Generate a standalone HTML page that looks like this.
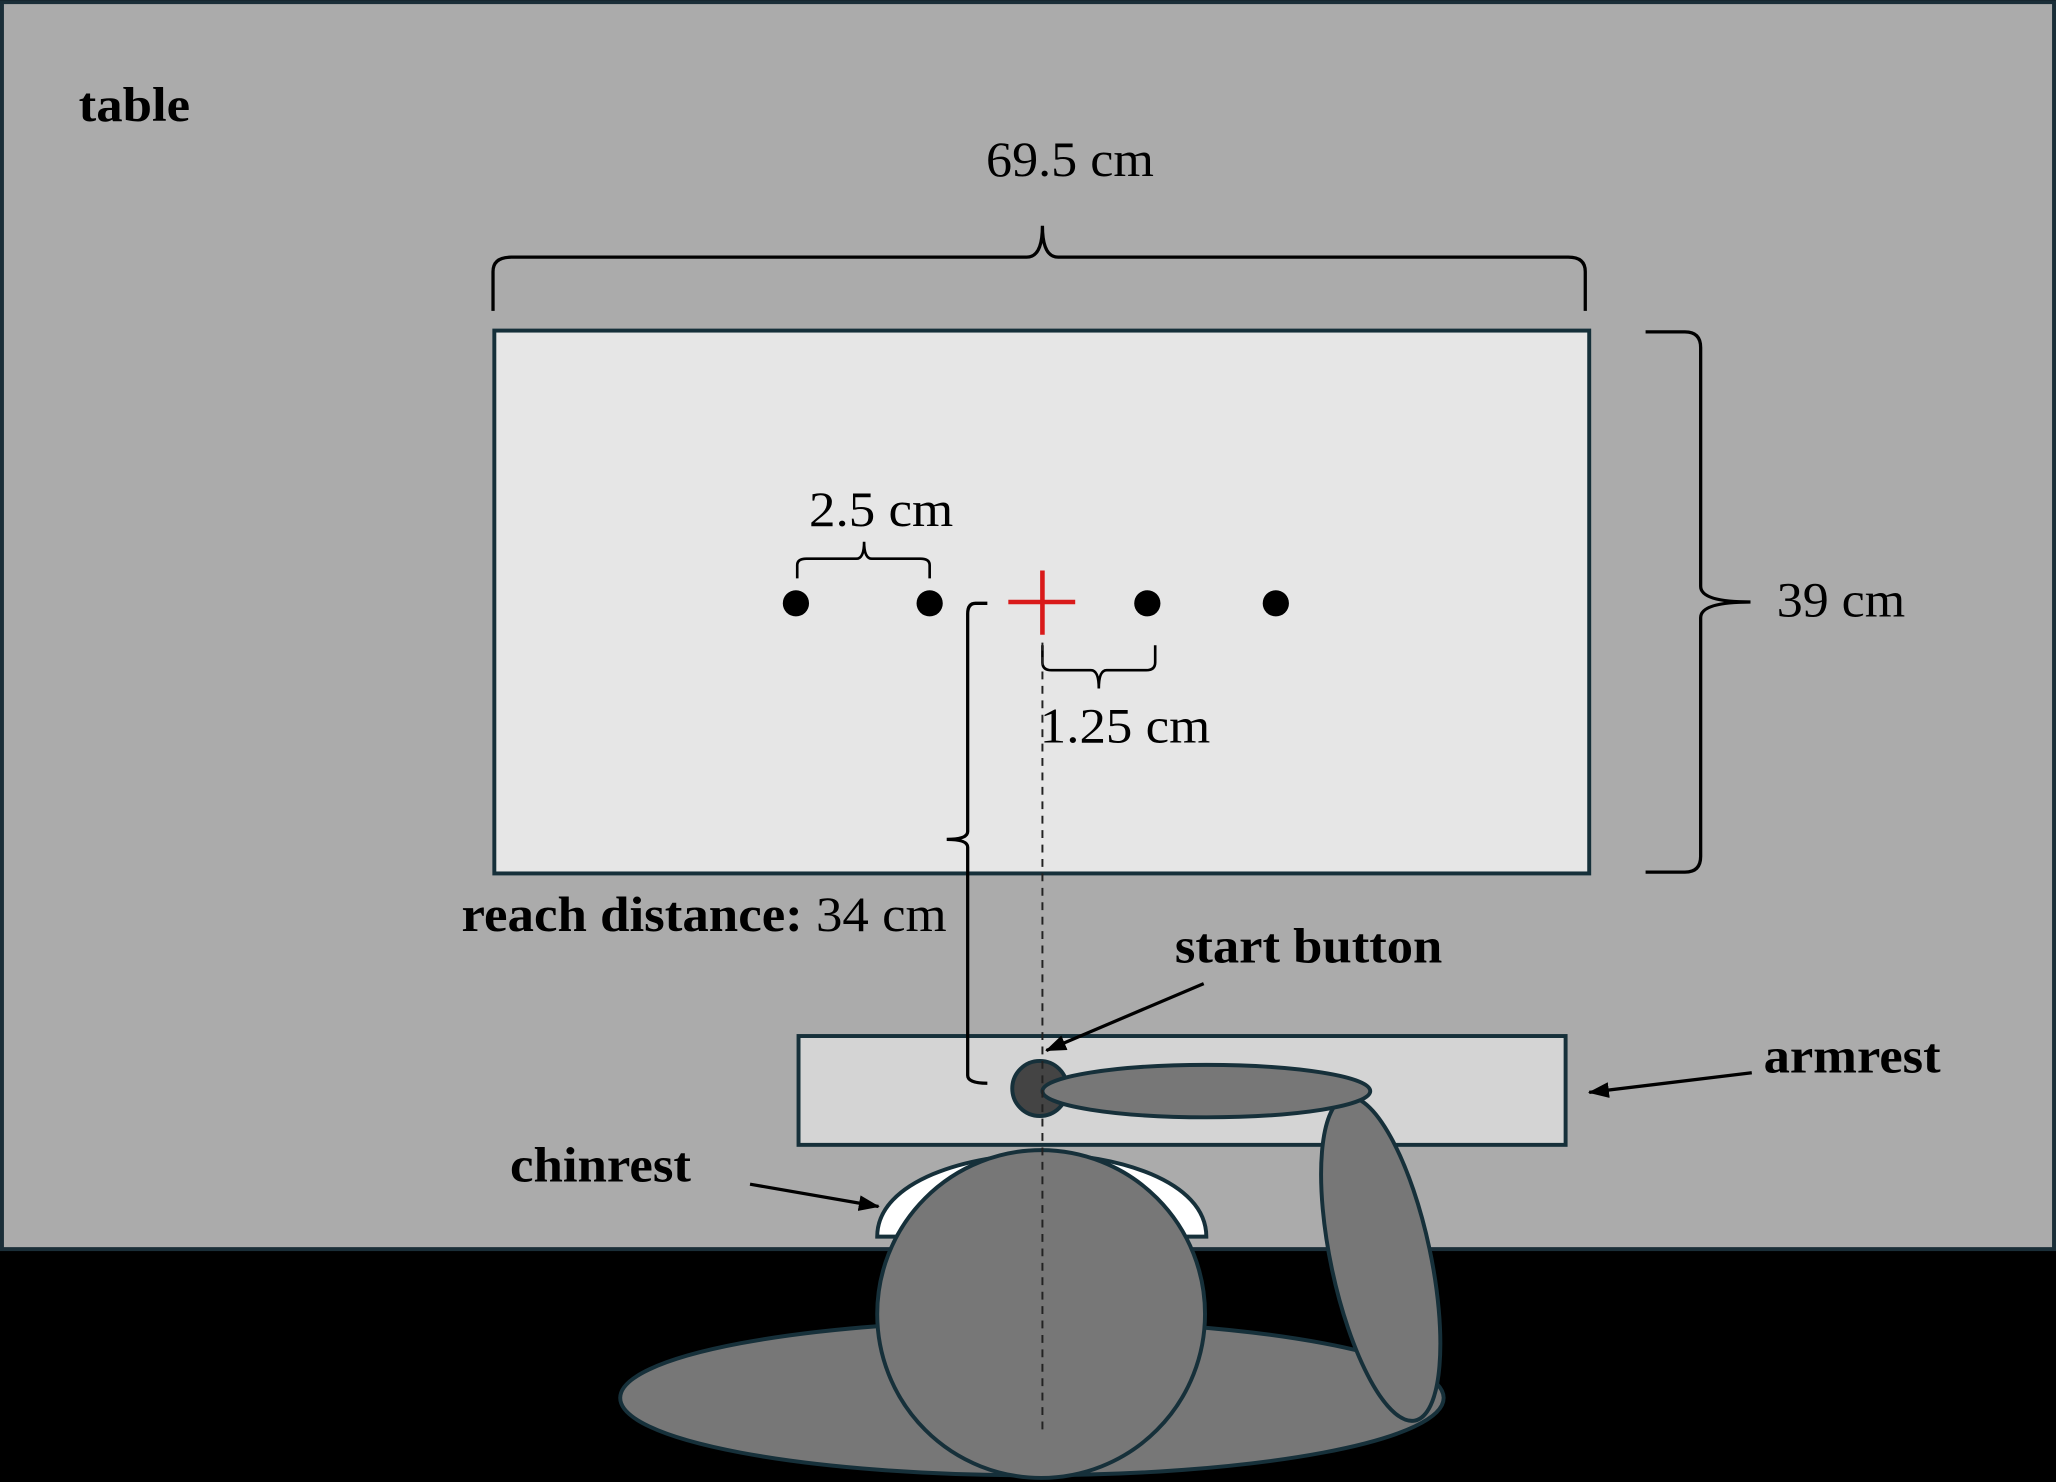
<!DOCTYPE html>
<html><head><meta charset="utf-8"><style>
html,body{margin:0;padding:0;background:#000}
svg{display:block}
text{font-family:"Liberation Serif",serif;fill:#000}
.b{font-weight:bold}
</style></head><body>
<svg width="2056" height="1482" viewBox="0 0 1568 1130" xmlns="http://www.w3.org/2000/svg">
<defs><marker id="ah" markerWidth="16" markerHeight="12" refX="15" refY="6" orient="auto" markerUnits="userSpaceOnUse"><path d="M0,0 L16,6 L0,12 Z" fill="#000"/></marker></defs>
<rect x="0" y="0" width="1568" height="1130" fill="#000"/>
<rect x="1.5" y="1.5" width="1565" height="951" fill="#ababab" stroke="#1a2e38" stroke-width="3"/>
<text x="60" y="92" class="b" font-size="37" textLength="85" lengthAdjust="spacingAndGlyphs">table</text>
<text x="752" y="134" font-size="38" textLength="128" lengthAdjust="spacingAndGlyphs">69.5 cm</text>
<path d="M376,237 L376,207 Q376,196 390,196 L783,196 Q795,196 795,172 Q795,196 807,196 L1196,196 Q1209,196 1209,207 L1209,237" fill="none" stroke="#000" stroke-width="2.5"/>
<rect x="377" y="252" width="835" height="414" fill="#e6e6e6" stroke="#16303a" stroke-width="3"/>
<path d="M1255,253 L1285,253 Q1297,253 1297,265 L1297,447 Q1297,459 1335,459 Q1297,459 1297,471 L1297,653 Q1297,665 1285,665 L1255,665" fill="none" stroke="#000" stroke-width="2.5"/>
<text x="1355" y="470" font-size="38" textLength="98" lengthAdjust="spacingAndGlyphs">39 cm</text>
<text x="617" y="401" font-size="38" textLength="110" lengthAdjust="spacingAndGlyphs">2.5 cm</text>
<path d="M608,441 L608,431 Q608,426 615,426 L653,426 Q659,426 659,413 Q659,426 665,426 L702,426 Q709,426 709,431 L709,441" fill="none" stroke="#000" stroke-width="2"/>
<path d="M795,492 L795,505 Q795,511 802,511 L832,511 Q838,511 838,525 Q838,511 844,511 L874,511 Q881,511 881,505 L881,492" fill="none" stroke="#000" stroke-width="2"/>
<text x="793" y="566" font-size="38" textLength="130" lengthAdjust="spacingAndGlyphs">1.25 cm</text>
<circle cx="607" cy="460" r="10" fill="#000"/>
<circle cx="709" cy="460" r="10" fill="#000"/>
<circle cx="875" cy="460" r="10" fill="#000"/>
<circle cx="973" cy="460" r="10" fill="#000"/>
<path d="M795,435 V484 M769,459 H820" stroke="#d91a1a" stroke-width="3.5"/>
<rect x="609" y="790" width="585" height="83" fill="#d4d4d4" stroke="#16303a" stroke-width="3"/>
<path d="M753,460 L744,460 Q738,460 738,468 L738,634 Q738,640 722,640 Q738,640 738,646 L738,820 Q738,826 753,826" fill="none" stroke="#000" stroke-width="2.5"/>
<text x="352" y="710" font-size="38" textLength="370" lengthAdjust="spacingAndGlyphs"><tspan class="b">reach distance:</tspan> 34 cm</text>
<text x="896" y="734" class="b" font-size="38" textLength="204" lengthAdjust="spacingAndGlyphs">start button</text>
<line x1="918" y1="750" x2="798" y2="801" stroke="#000" stroke-width="2.5" marker-end="url(#ah)"/>
<text x="1345" y="818" class="b" font-size="38" textLength="135" lengthAdjust="spacingAndGlyphs">armrest</text>
<line x1="1336" y1="818" x2="1212" y2="833" stroke="#000" stroke-width="2.5" marker-end="url(#ah)"/>
<text x="389" y="901" class="b" font-size="38" textLength="138" lengthAdjust="spacingAndGlyphs">chinrest</text>
<line x1="572" y1="903" x2="670" y2="920" stroke="#000" stroke-width="2.5" marker-end="url(#ah)"/>
<ellipse cx="787" cy="1066" rx="314" ry="59" fill="#777" stroke="#16303a" stroke-width="3"/>
<path d="M669,943 C669,900 740,880 795,880 C850,880 920,900 920,943 Z" fill="#fff" stroke="#16303a" stroke-width="3"/>
<ellipse cx="1053" cy="960" rx="38" ry="126" transform="rotate(-12 1053 960)" fill="#777" stroke="#16303a" stroke-width="3"/>
<circle cx="794" cy="1002" r="125" fill="#777" stroke="#16303a" stroke-width="3"/>
<circle cx="793" cy="830" r="21" fill="#444" stroke="#16303a" stroke-width="3"/>
<ellipse cx="920" cy="832" rx="125" ry="20" fill="#777" stroke="#16303a" stroke-width="3"/>
<line x1="795" y1="490" x2="795" y2="1090" stroke="#222" stroke-width="1.5" stroke-dasharray="6,5"/>
</svg>
</body></html>
